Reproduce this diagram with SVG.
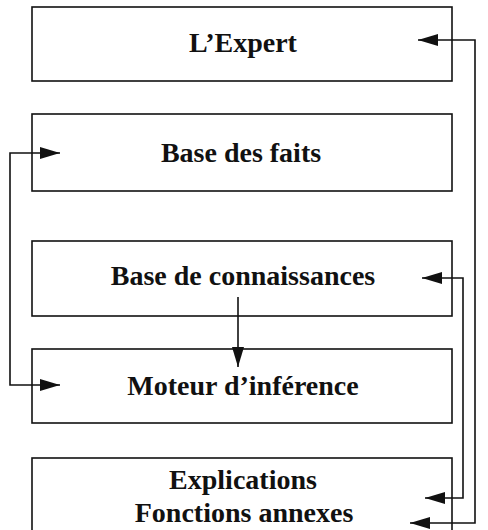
<svg xmlns="http://www.w3.org/2000/svg" width="488" height="530" viewBox="0 0 488 530">
<style>
.box{fill:#fff;stroke:#111;stroke-width:1.6}
.lbl{font-family:"Liberation Serif","Times New Roman",serif;font-weight:bold;font-size:28px;fill:#111;text-anchor:middle}
.con{fill:none;stroke:#111;stroke-width:1.6}
</style>
<defs>
<marker id="ah" markerUnits="userSpaceOnUse" markerWidth="20" markerHeight="12" refX="20" refY="6" orient="auto-start-reverse">
<path d="M0,0 L20,6 L0,12 Z" fill="#111"/>
</marker>
</defs>
<rect width="488" height="530" fill="#fff"/>
<g id="expert"><rect class="box" x="32" y="7" width="420" height="74"/><text class="lbl" x="243" y="52">L’Expert</text></g>
<g id="faits"><rect class="box" x="32" y="114" width="420" height="77"/><text class="lbl" x="241" y="162">Base des faits</text></g>
<g id="connaissances"><rect class="box" x="32" y="241" width="420" height="75"/><text class="lbl" x="243" y="285">Base de connaissances</text></g>
<g id="moteur"><rect class="box" x="32" y="349" width="420" height="74"/><text class="lbl" x="243" y="395">Moteur d’inférence</text></g>
<g id="explications"><rect class="box" x="32" y="458" width="420" height="80"/><text class="lbl" x="243" y="489">Explications</text><text class="lbl" x="244" y="522">Fonctions annexes</text></g>
<g id="connectors">
<path class="con" d="M410,523 H475 V40 H418" marker-start="url(#ah)" marker-end="url(#ah)"/>
<path class="con" d="M425,498 H463 V278 H422" marker-start="url(#ah)" marker-end="url(#ah)"/>
<path class="con" d="M60,153 H10 V385 H60" marker-start="url(#ah)" marker-end="url(#ah)"/>
<path class="con" d="M238,297 V367" marker-end="url(#ah)"/>
</g>
</svg>
